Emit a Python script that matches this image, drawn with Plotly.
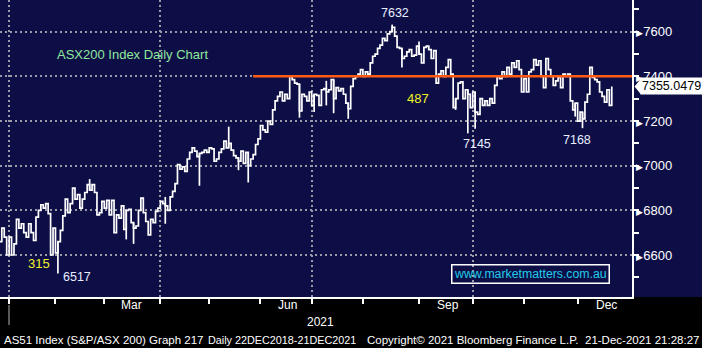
import pandas as pd
import plotly.graph_objects as go

# ---------------- data ----------------
asx_holidays = ["2020-12-25", "2020-12-28", "2021-01-01", "2021-01-26",
                "2021-04-02", "2021-04-05", "2021-06-14"]

close = [
    6660, 6720, 6680, 6600, 6680, 6600, 6650, 6760, 6720, 6740,
    6700, 6680, 6740, 6700, 6665, 6770, 6800, 6825, 6810, 6830,
    6785, 6600, 6720, 6610, 6660, 6710, 6775, 6850, 6790, 6830,
    6900, 6850, 6870, 6810, 6850, 6880, 6915, 6890, 6915, 6880,
    6780, 6790, 6840, 6810, 6845, 6780, 6845, 6700, 6780,
    6765, 6820, 6715, 6800, 6805, 6745, 6720, 6730, 6800, 6855,
    6790, 6750, 6690, 6760, 6745, 6795, 6810, 6840, 6830, 6820,
    6800, 6860, 6885, 6920, 7005, 6985, 6995, 6975, 7030, 7060,
    7080, 7065, 7040, 7055, 7060, 7070, 7060, 7080, 7075, 7020,
    7030, 7060, 7075, 7110, 7080, 7100, 7070, 7045, 7035, 7020,
    7065, 7010, 7060, 7000, 7030, 7050, 7095, 7120, 7180, 7160,
    7150, 7200, 7185, 7250, 7290, 7310, 7330, 7290, 7320, 7300,
    7400, 7385, 7370, 7365, 7245, 7320, 7310, 7290, 7330, 7270,
    7320, 7315, 7270, 7340, 7345, 7330, 7340, 7385, 7300, 7350,
    7335, 7345, 7320, 7280, 7255, 7355, 7390, 7400, 7410, 7430,
    7400, 7420, 7410, 7460, 7490, 7500, 7525, 7540, 7570, 7560,
    7590, 7600, 7620, 7580, 7530, 7525, 7480, 7490, 7510, 7520,
    7490, 7495, 7535, 7500, 7460, 7530, 7535, 7520, 7480, 7515,
    7370, 7410, 7425, 7400, 7440, 7475, 7410, 7260, 7300, 7370,
    7375, 7300, 7340, 7320, 7260, 7330, 7240, 7230, 7300, 7270,
    7290, 7270, 7300, 7280, 7360, 7400, 7390, 7420, 7400, 7440,
    7410, 7460, 7440, 7470, 7430, 7330, 7390, 7330, 7420, 7430,
    7475, 7450, 7470, 7400, 7350, 7480, 7430, 7400, 7360, 7380,
    7395, 7350, 7410, 7400, 7410, 7290, 7250, 7280, 7200, 7240,
    7210, 7285, 7320, 7440, 7395, 7385, 7375, 7330, 7310, 7285,
    7340, 7270, 7355.0479,
]

# intraday extremes that stick out beyond the step line (day index -> value)
spike_low = {24: 6517, 52: 6670, 55: 6650, 68: 6740, 82: 6910, 98: 6980,
             102: 6925, 123: 7215, 129: 7240, 134: 7270, 137: 7235,
             143: 7210, 165: 7440, 187: 7250, 192: 7145, 195: 7165,
             236: 7220, 239: 7168}
spike_high = {37: 6940, 68: 6860, 94: 7175, 134: 7380, 161: 7632, 172: 7556}

resistance_level = 7400
resistance_start = "2021-05-27"
last_price = close[-1]

y_range = [6412, 7742]
x_range = ["2020-12-24 06:15", "2021-12-31 07:00"]
ytick_vals = [6600, 6800, 7000, 7200, 7400, 7600]
month_labels = ["Mar", "Jun", "Sep", "Dec"]
month_label_dates = ["2021-03-16", "2021-06-17", "2021-09-17", "2021-12-17"]
year_label = "2021"

footer_parts = ["AS51 Index (S&P/ASX 200) Graph 217",
                "Daily 22DEC2018-21DEC2021",
                "Copyright\u00a9 2021 Bloomberg Finance L.P.",
                "21-Dec-2021 21:28:27"]
footer_x = [2, 206, 365, 583]
footer_size = [11.5, 10.8, 11.5, 11.5]

# ---------------- styling ----------------
NAVY = "#0e0e47"
GRID = "#9a9aa8"
FONT = "Liberation Sans, Arial, sans-serif"
W, H = 702, 348
ML, MR, MT, MB = 0, 70, 0, 51
PW, PH = W - ML - MR, H - MT - MB


def px(x):
    return x / PW


def py(y):
    return 1 - y / PH


dates = pd.bdate_range(end="2021-12-21", periods=len(close), freq="C",
                       holidays=asx_holidays)

fig = go.Figure()
fig.add_trace(go.Scatter(x=dates, y=close, mode="lines",
                         line=dict(color="white", width=1.7, shape="hv"),
                         hoverinfo="skip"))

wx, wy = [], []
for i in sorted(set(spike_low) | set(spike_high)):
    prev = close[i - 1] if i > 0 else close[i]
    lo = spike_low.get(i, min(prev, close[i]))
    hi = spike_high.get(i, max(prev, close[i]))
    wx += [dates[i], dates[i], None]
    wy += [lo, hi, None]
fig.add_trace(go.Scatter(x=wx, y=wy, mode="lines",
                         line=dict(color="white", width=1.7), hoverinfo="skip"))

fig.add_trace(go.Scatter(x=[resistance_start, x_range[1]],
                         y=[resistance_level, resistance_level], mode="lines",
                         line=dict(color="#ff5a14", width=2.5), hoverinfo="skip"))

ticktext = ['<span style="font-size:9px">\u25b6</span>' + str(v) for v in ytick_vals]

fig.update_layout(
    width=W, height=H, margin=dict(l=ML, r=MR, t=MT, b=MB),
    paper_bgcolor=NAVY, plot_bgcolor=NAVY, showlegend=False,
    font=dict(family=FONT, color="white"),
    xaxis=dict(
        type="date", range=x_range,
        rangebreaks=[dict(bounds=["sat", "mon"]), dict(values=asx_holidays)],
        tick0="2021-01-01", dtick="M3",
        showgrid=True, gridcolor=GRID, griddash="2px,3px", gridwidth=2,
        ticks="outside", ticklen=5, tickcolor="white", tickwidth=1.5,
        showticklabels=False,
        minor=dict(tick0="2021-01-01", dtick="M1", ticks="outside", ticklen=5,
                   tickcolor="white", tickwidth=1.5, showgrid=False),
        showline=True, linecolor="white", linewidth=1.5, zeroline=False,
    ),
    yaxis=dict(
        side="right", range=y_range,
        tickmode="array", tickvals=ytick_vals, ticktext=ticktext, ticks="",
        showgrid=True, gridcolor=GRID, griddash="2px,3px", gridwidth=2,
        minor=dict(tick0=6500, dtick=100, ticks="outside", ticklen=5,
                   tickcolor="white", tickwidth=1.5, showgrid=False),
        showline=True, linecolor="white", linewidth=1.5, zeroline=False,
        tickfont=dict(family=FONT, color="white", size=13),
        ticklabelstandoff=0,
    ),
)

shapes = [
    # black footer strip
    dict(type="rect", xref="paper", yref="paper", x0=-0.01, x1=W / PW + 0.01,
         y0=-(MB + 5) / PH, y1=0, fillcolor="black", line=dict(width=0),
         layer="below"),
    # year separator
    dict(type="line", xref="paper", yref="paper", x0=px(9), x1=px(9),
         y0=-8 / PH, y1=-28 / PH, line=dict(color="#b0b0b0", width=1)),
]
u = (y_range[1] - y_range[0]) / PH
shapes.append(dict(
    type="path", xref="paper", yref="y",
    path=f"M {1 + 2.5 / PW},{last_price} L {1 + 9 / PW},{last_price + 8 * u} "
         f"L {1 + 9 / PW},{last_price - 8 * u} Z",
    fillcolor="white", line=dict(width=0)))
fig.update_layout(shapes=shapes)

ann = []


def label(text, x, y, color, size=13, **kw):
    ann.append(dict(text=text, x=px(x), y=py(y), xref="paper", yref="paper",
                    showarrow=False, xanchor=kw.pop("xanchor", "center"),
                    yanchor="middle", font=dict(family=FONT, color=color, size=size),
                    **kw))


label("ASX200 Index Daily Chart", 132, 54, "#8ee89c", 13)
label("7632", 394.5, 13, "#e8eeff", 12.5)
label("487", 417.5, 98, "#f0f028", 13)
label("7145", 477, 143.5, "#e8eeff", 12.5)
label("7168", 577, 140, "#e8eeff", 12.5)
label("315", 39, 263.5, "#f0f028", 13)
label("6517", 77, 277, "#e8eeff", 12.5)
label("www.marketmatters.com.au", 530, 273.5, "#22cce8", 12.3,
      bordercolor="white", borderwidth=1.5, borderpad=1.5)

# last price tag
ann.append(dict(text=f"{last_price:.4f}", x=1, xref="paper", xshift=8,
                y=last_price, yref="y", xanchor="left", yanchor="middle",
                showarrow=False, bgcolor="white", borderpad=1,
                font=dict(family=FONT, color="black", size=12.5)))

# month labels
for m, d in zip(month_labels, month_label_dates):
    ann.append(dict(text=m, x=d, xref="x", y=0, yref="paper", yshift=-8,
                    yanchor="middle", showarrow=False,
                    font=dict(family=FONT, color="white", size=12)))
label(year_label, 320, 322, "white", 12)

for txt, xpos, fs in zip(footer_parts, footer_x, footer_size):
    label(txt, xpos, 340, "white", fs, xanchor="left")

fig.update_layout(annotations=ann)
fig.write_html("out.html")
